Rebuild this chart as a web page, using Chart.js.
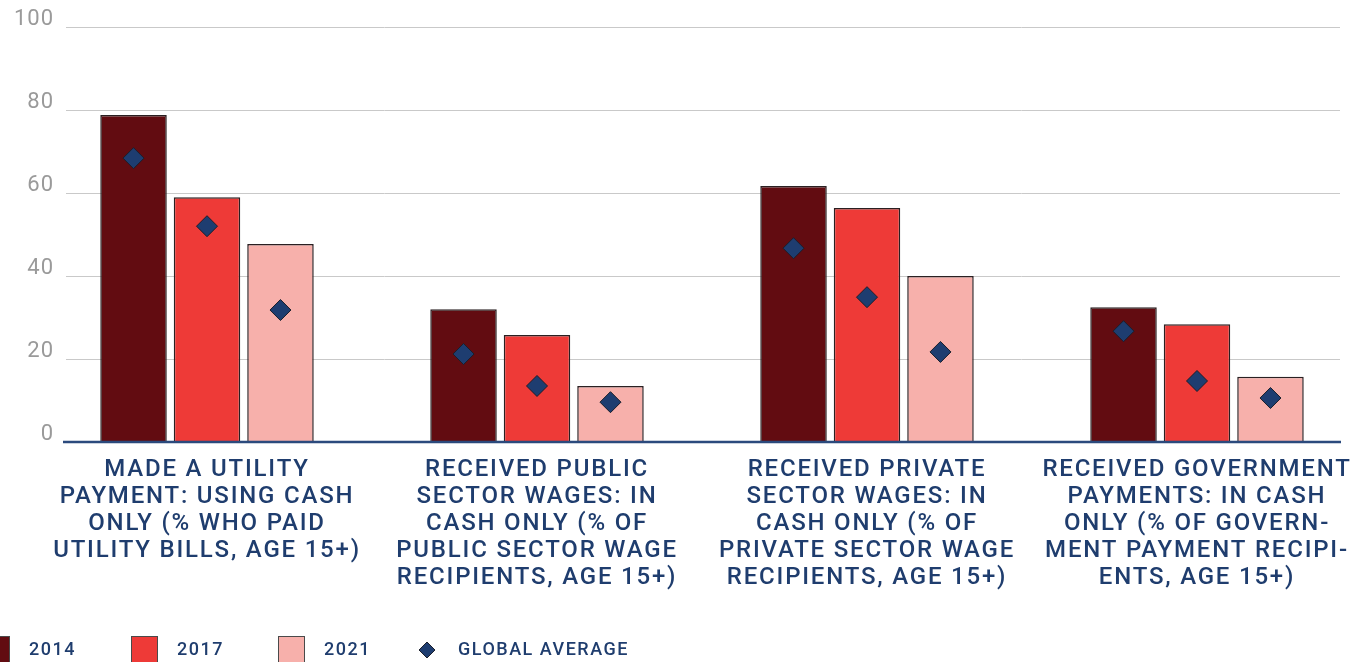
<!DOCTYPE html>
<html>
<head>
<meta charset="utf-8">
<script src="https://cdn.jsdelivr.net/npm/chart.js@4"></script>
<style>
  html, body { margin: 0; padding: 0; background: #fff; }
  #wrap { width: 1367px; height: 662px; }
</style>
</head>
<body>
<div id="wrap"><canvas id="cashChart" width="1367" height="662"></canvas></div>
<script>
const categories = [
    ['MADE A UTILITY', 'PAYMENT: USING CASH', 'ONLY (% WHO PAID', 'UTILITY BILLS, AGE 15+)'],
    ['RECEIVED PUBLIC', 'SECTOR WAGES: IN', 'CASH ONLY (% OF', 'PUBLIC SECTOR WAGE', 'RECIPIENTS, AGE 15+)'],
    ['RECEIVED PRIVATE', 'SECTOR WAGES: IN', 'CASH ONLY (% OF', 'PRIVATE SECTOR WAGE', 'RECIPIENTS, AGE 15+)'],
    ['RECEIVED GOVERNMENT', 'PAYMENTS: IN CASH', 'ONLY (% OF GOVERN-', 'MENT PAYMENT RECIPI-', 'ENTS, AGE 15+)']
];
const years = ['2014', '2017', '2021'];
const values2014 = [78.8, 32.0, 61.7, 32.5];
const values2017 = [59.0, 25.8, 56.4, 28.4];
const values2021 = [47.7, 13.5, 40.0, 15.7];
const globalAvg2014 = [68.4, 21.2, 46.7, 26.7];
const globalAvg2017 = [52.0, 13.5, 34.9, 14.7];
const globalAvg2021 = [31.8, 9.6, 21.7, 10.6];
const yTicks = [0, 20, 40, 60, 80, 100];

const navy = '#1f3d6e';
const barColors = ['#620c11', '#ee3a37', '#f7b0ab'];
const globalAvg = [globalAvg2014, globalAvg2017, globalAvg2021];

// letter spacing is part of canvas state, keep it set
const spacing = {
    id: 'spacing',
    beforeUpdate(chart) { chart.ctx.letterSpacing = '1.8px'; },
    beforeDraw(chart) { chart.ctx.letterSpacing = '1.8px'; }
};

// y grid lines and labels, drawn outside the category area
const yAxisDraw = {
    id: 'yAxisDraw',
    beforeDatasetsDraw(chart) {
        const ctx = chart.ctx;
        const y = chart.scales.y;
        ctx.save();
        ctx.strokeStyle = '#c9c9c9';
        ctx.lineWidth = 1;
        ctx.font = '22px Roboto';
        ctx.fillStyle = '#9a9a9a';
        ctx.textAlign = 'right';
        ctx.textBaseline = 'middle';
        ctx.letterSpacing = '1px';
        yTicks.forEach(t => {
            const py = Math.round(y.getPixelForValue(t)) + 0.5;
            if (t > 0) {
                ctx.beginPath();
                ctx.moveTo(66, py);
                ctx.lineTo(1340, py);
                ctx.stroke();
            }
            ctx.fillText(String(t), 54, py - 8);
        });
        ctx.restore();
    },
    afterDatasetsDraw(chart) {
        const ctx = chart.ctx;
        const y = chart.scales.y;
        ctx.save();
        // diamonds for global average, sitting on each bar
        for (let i = 0; i < 3; i++) {
            const m = chart.getDatasetMeta(i);
            m.data.forEach((bar, j) => {
                const px = bar.x;
                const py = y.getPixelForValue(globalAvg[i][j]);
                const r = 10.5;
                ctx.beginPath();
                ctx.moveTo(px, py - r);
                ctx.lineTo(px + r, py);
                ctx.lineTo(px, py + r);
                ctx.lineTo(px - r, py);
                ctx.closePath();
                ctx.fillStyle = '#1e3d70';
                ctx.fill();
                ctx.strokeStyle = '#1b1f2b';
                ctx.lineWidth = 1;
                ctx.stroke();
            });
        }
        // base axis line
        const by = y.getPixelForValue(0);
        ctx.strokeStyle = '#2b4a7d';
        ctx.lineWidth = 2.5;
        ctx.beginPath();
        ctx.moveTo(63, by);
        ctx.lineTo(1341, by);
        ctx.stroke();
        ctx.restore();
    }
};

// legend along the bottom edge
const bottomLegend = {
    id: 'bottomLegend',
    afterDraw(chart) {
        const ctx = chart.ctx;
        const items = [
            { x: -17, text: years[0], color: barColors[0] },
            { x: 131, text: years[1], color: barColors[1] },
            { x: 278, text: years[2], color: barColors[2] }
        ];
        const cy = 650;
        ctx.save();
        ctx.font = '500 18px Roboto';
        ctx.textBaseline = 'middle';
        ctx.textAlign = 'left';
        ctx.letterSpacing = '1.5px';
        items.forEach(it => {
            ctx.fillStyle = it.color;
            ctx.fillRect(it.x, 636, 27, 30);
            ctx.strokeStyle = '#4a4a4a';
            ctx.lineWidth = 1;
            ctx.strokeRect(it.x + 0.5, 636.5, 26, 30);
            ctx.fillStyle = navy;
            ctx.fillText(it.text, it.x + 46, cy);
        });
        const dx = 427, r = 8;
        ctx.beginPath();
        ctx.moveTo(dx, cy - r);
        ctx.lineTo(dx + r, cy);
        ctx.lineTo(dx, cy + r);
        ctx.lineTo(dx - r, cy);
        ctx.closePath();
        ctx.fillStyle = '#1e3d70';
        ctx.fill();
        ctx.strokeStyle = '#1b1f2b';
        ctx.stroke();
        ctx.fillStyle = navy;
        ctx.fillText('GLOBAL AVERAGE', 458, cy);
        ctx.restore();
    }
};

const barDataset = (label, data, color) => ({
    label: label,
    data: data,
    backgroundColor: color,
    borderColor: '#2a2022',
    borderWidth: 1.5,
    categoryPercentage: 0.668,
    barPercentage: 0.905
});

const ctx = document.getElementById('cashChart').getContext('2d');
new Chart(ctx, {
    type: 'bar',
    data: {
        labels: categories,
        datasets: [
            barDataset(years[0], values2014, barColors[0]),
            barDataset(years[1], values2017, barColors[1]),
            barDataset(years[2], values2021, barColors[2])
        ]
    },
    options: {
        responsive: false,
        animation: false,
        layout: { padding: { left: 42, right: 5, top: 27, bottom: 70 } },
        plugins: {
            legend: { display: false },
            tooltip: { enabled: false }
        },
        scales: {
            x: {
                grid: { display: false },
                border: { display: false },
                ticks: {
                    color: navy,
                    font: { family: 'Roboto', size: 24, weight: '500', lineHeight: 1.125 },
                    padding: 6,
                    maxRotation: 0,
                    autoSkip: false
                },
                afterFit(scale) { scale.height = 150; }
            },
            y: {
                display: false,
                min: 0,
                max: 100
            }
        }
    },
    plugins: [spacing, yAxisDraw, bottomLegend]
});
</script>
</body>
</html>
